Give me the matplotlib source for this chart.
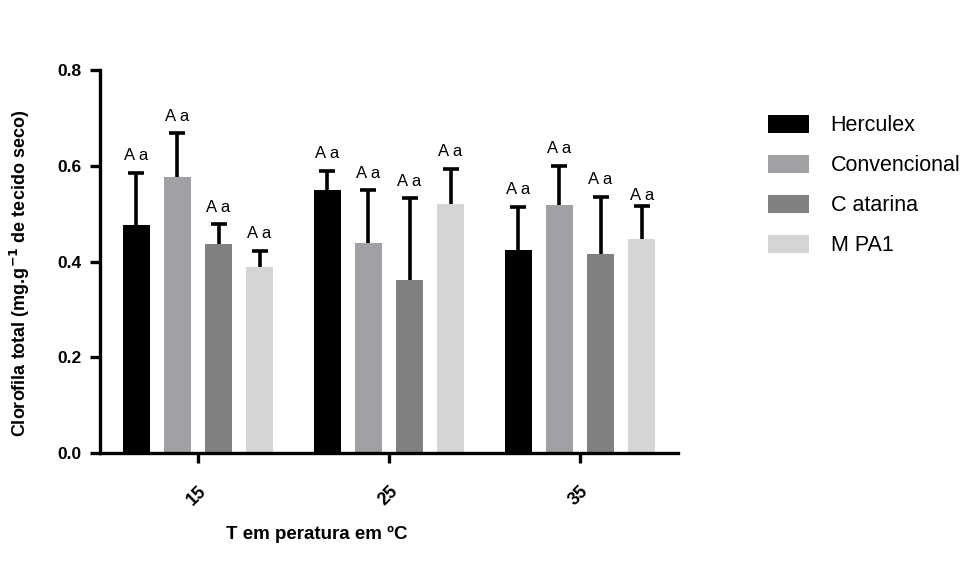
import matplotlib
matplotlib.use("Agg")
import matplotlib.pyplot as plt
import numpy as np
from matplotlib.patches import Patch

plt.rcParams['font.family'] = ['Liberation Sans', 'DejaVu Sans']

groups = ["15", "25", "35"]
series = ["Herculex", "Convencional", "C atarina", "M PA1"]
colors = ["#000000", "#A1A1A5", "#808080", "#D5D5D5"]
means = {
    "Herculex":     [0.476, 0.549, 0.425],
    "Convencional": [0.576, 0.438, 0.519],
    "C atarina":    [0.436, 0.361, 0.415],
    "M PA1":        [0.389, 0.521, 0.447],
}
sd = {
    "Herculex":     [0.110, 0.041, 0.089],
    "Convencional": [0.092, 0.111, 0.081],
    "C atarina":    [0.042, 0.171, 0.120],
    "M PA1":        [0.033, 0.072, 0.070],
}
letters = "A a"

fig = plt.figure(figsize=(9.75, 5.61), dpi=100)
ax = fig.add_axes([0.1026, 0.1925, 0.5928, 0.6825])

x = np.arange(len(groups))
step = 0.215
width = 0.141
for i, s in enumerate(series):
    pos = x + (i - 1.5) * step
    m = np.array(means[s]); e = np.array(sd[s])
    ax.bar(pos, m, width=width, color=colors[i], zorder=2)
    # symmetric bars drawn below the bar: only the upper half stays visible
    ax.errorbar(pos, m, yerr=e, fmt='none', ecolor='black',
                elinewidth=2.6, capsize=5.5, capthick=2.6, zorder=1)
    for j in range(len(groups)):
        off = 2 if (i == 3 and j == 2) else 7
        ax.annotate(letters, (pos[j], m[j] + e[j]), xytext=(0, off),
                    textcoords='offset points', ha='center', va='bottom', fontsize=12)

ax.set_xlim(-0.513, 2.513)
ax.set_ylim(0, 0.8)
ax.set_yticks([0.0, 0.2, 0.4, 0.6, 0.8])
ax.set_yticklabels(["0.0", "0.2", "0.4", "0.6", "0.8"], fontweight='bold', fontsize=12.5)
ax.set_xticks(x)
ax.set_xticklabels(groups, rotation=45, ha='right', rotation_mode='anchor',
                   fontweight='bold', fontsize=13)
for sp in ['top', 'right']:
    ax.spines[sp].set_visible(False)
for sp in ['left', 'bottom']:
    ax.spines[sp].set_linewidth(2.4)
ax.tick_params(axis='both', width=2.4, length=7, direction='out', pad=6)
ax.tick_params(axis='x', pad=14)

ax.set_ylabel("Clorofila total (mg.g$^{\\mathbf{-1}}$ de tecido seco)", fontweight='bold',
              fontsize=13)
ax.yaxis.set_label_coords(-0.118, 0.47)
ax.set_xlabel("T em peratura em ºC", fontweight='bold', fontsize=13.5)
ax.xaxis.set_label_coords(0.375, -0.19)

handles = [Patch(facecolor=c, edgecolor='none') for c in colors]
fig.legend(handles, series, loc='upper left', bbox_to_anchor=(0.768, 0.83),
           frameon=False, fontsize=15.5, handlelength=1.9, handleheight=0.95,
           labelspacing=0.85, handletextpad=1.0)

fig.savefig("out.png", dpi=100)
